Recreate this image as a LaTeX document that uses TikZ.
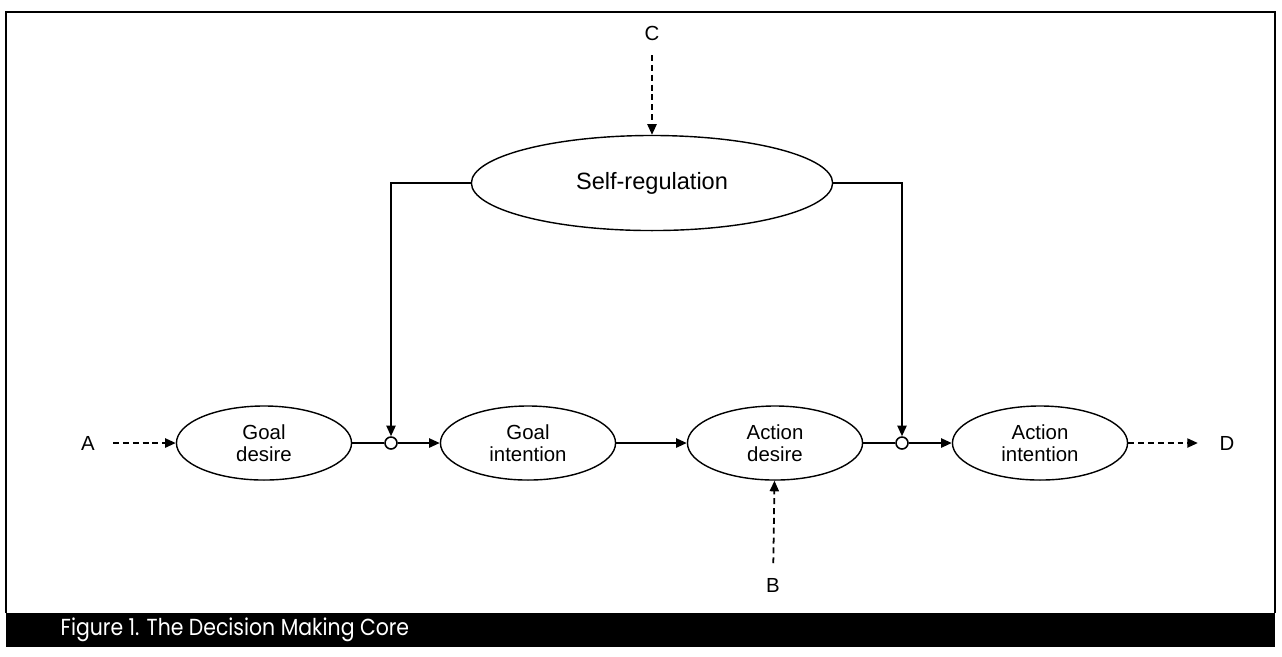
\documentclass[tikz,border=0pt]{standalone}
\usepackage{fontspec}
\setmainfont{Liberation Sans}
\newfontfamily\capfont[FakeStretch=0.88]{Poppins}
\usetikzlibrary{shapes.geometric,arrows.meta,positioning}
\tikzset{
  >={Triangle[length=3pt,width=2.6pt]},
}

\begin{document}
\begin{tikzpicture}[
  x=0.01cm,y=-0.01cm,
  every node/.style={font=\fontsize{5.8}{6.2}\selectfont},
  box/.style={draw,ellipse,line width=0.4pt,minimum width=1.75cm,minimum height=0.74cm,inner sep=0pt,align=center},
  bigbox/.style={box,minimum width=3.61cm,minimum height=0.95cm,font=\fontsize{6.7}{8}\selectfont},
  jn/.style={draw,circle,fill=white,minimum size=0.12cm,inner sep=0pt,line width=0.45pt},
  lbl/.style={inner sep=1pt},
  arr/.style={->,line width=0.5pt},
  dasharr/.style={->,dashed,dash pattern=on 1.7pt off 1.1pt,line width=0.5pt}
]
\useasboundingbox (0,0) rectangle (1282,656);

% frame and caption bar
\draw[line width=0.6pt] (6,613) |- (1275,12) -- (1275,613);
\fill (6,613) rectangle (1275,647);
\node[anchor=west,text=white,font=\capfont\fontsize{6.6}{7}\selectfont,inner sep=0pt] (cap) at (60,630)
  {Figure 1. The Decision Making Core};

\node[bigbox] (sr) at (652,183) {Self-regulation};

\node[box] (gd) at (264,443) {Goal\\desire};
\node[box] (gi) at (528,443) {Goal\\intention};
\node[box] (ad) at (775,443) {Action\\desire};
\node[box] (ai) at (1040,443) {Action\\intention};

\node[jn] (j1) at (391,443) {};
\node[jn] (j2) at (902,443) {};

\node[lbl] (A) at (88,443) {A};
\node[lbl] (B) at (773,585) {B};
\node[lbl] (C) at (652,33) {C};
\node[lbl] (D) at (1227,443) {D};

\draw (gd) -- (j1);
\draw[arr] (j1) -- (gi);
\draw[arr] (gi) -- (ad);
\draw (ad) -- (j2);
\draw[arr] (j2) -- (ai);

\draw[arr] (sr.west) -| (j1.north);
\draw[arr] (sr.east) -| (j2.north);

\draw[dasharr,shorten <=4pt] (A) -- (gd);
\draw[dasharr,shorten <=3pt] (C) -- (sr);
\draw[dasharr,shorten <=3pt] (B) -- (ad);
\draw[dasharr,shorten >=5pt] (ai) -- (D);

\end{tikzpicture}
\end{document}
